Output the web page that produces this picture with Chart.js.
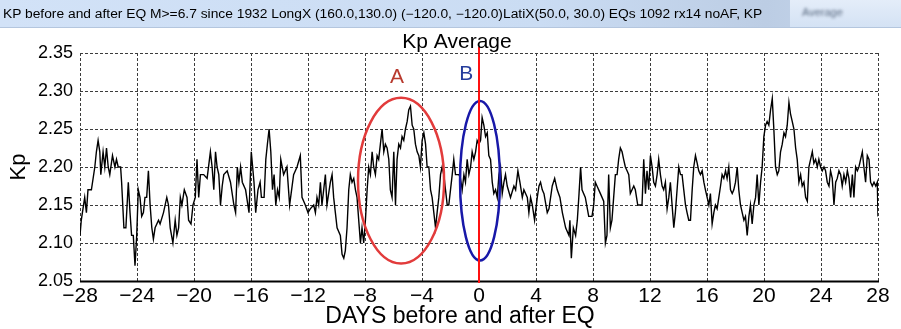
<!DOCTYPE html>
<html>
<head>
<meta charset="utf-8">
<script src="https://cdn.jsdelivr.net/npm/chart.js@4.4.0/dist/chart.umd.min.js"></script>
<style>
html, body { margin: 0; padding: 0; background: #fff; }
#wrap { position: relative; width: 901px; height: 329px; overflow: hidden; }
#bar {
	position: absolute; left: 0; top: 0; width: 901px; height: 27px;
	background: linear-gradient(to right, #d2e2f7 0%, #cadcf3 60%, #bccde4 85%, #c9d9ee 100%);
	border-bottom: 1px solid #b4c6de;
	font: 12px "Liberation Sans", Arial, sans-serif; color: #000;
}
#bar .txt {
	position: absolute; left: 3px; top: 7px; white-space: nowrap;
	transform: scaleX(1.15); transform-origin: left center;
}
#bar .rest {
	position: absolute; left: 790px; top: 0; width: 111px; height: 27px;
	background: linear-gradient(#e4edf9, #d4e2f4);
}
#bar .blur { position: absolute; left: 12px; top: 6px; color: #5a6a80; filter: blur(1.5px); font-size: 11px; }
#myChart { position: absolute; left: 0; top: 0; }
</style>
</head>
<body>
<div id="wrap">
	<canvas id="myChart" width="901" height="329"></canvas>
	<div id="bar">
		<span class="txt">KP before and after EQ M&gt;=6.7 since 1932 LongX (160.0,130.0) (−120.0, −120.0)LatiX(50.0, 30.0) EQs 1092 rx14 noAF, KP</span>
		<div class="rest"><span class="blur">Average</span></div>
	</div>
</div>
<script>
// days relative to the earthquake (x) and averaged Kp (y)
const days = [
	-28, -27.91, -27.67, -27.55, -27.44, -27.2, -26.96, -26.85, -26.73, -26.61,
	-26.54, -26.38, -26.26, -26.14, -26.02, -25.91, -25.72, -25.55, -25.44, -25.32,
	-25.15, -25.08, -24.92, -24.78, -24.61, -24.49, -24.38, -24.26, -24.14, -24.02,
	-23.91, -23.79, -23.67, -23.55, -23.44, -23.32, -23.2, -23.08, -22.96, -22.85,
	-22.73, -22.49, -22.38, -22.14, -21.91, -21.79, -21.67, -21.48, -21.32, -21.2,
	-21.08, -20.96, -20.85, -20.68, -20.49, -20.38, -20.21, -20.07, -19.91, -19.79,
	-19.67, -19.55, -19.32, -19.08, -18.85, -18.73, -18.61, -18.49, -18.38, -18.26,
	-18.14, -18.02, -17.91, -17.67, -17.44, -17.2, -17.08, -16.96, -16.85, -16.73,
	-16.61, -16.38, -16.14, -15.98, -15.79, -15.67, -15.51, -15.36, -15.27, -15.08,
	-14.96, -14.85, -14.73, -14.61, -14.49, -14.38, -14.26, -14.14, -14.02, -13.91,
	-13.71, -13.48, -13.29, -13.01, -12.77, -12.54, -12.42, -12.19, -12.0, -11.84,
	-11.6, -11.48, -11.37, -11.25, -11.13, -11.02, -10.9, -10.78, -10.67, -10.43,
	-10.31, -10.2, -10.08, -9.96, -9.73, -9.61, -9.49, -9.38, -9.26, -9.14,
	-9.03, -8.91, -8.79, -8.67, -8.56, -8.32, -8.21, -8.09, -7.97, -7.85,
	-7.74, -7.62, -7.5, -7.39, -7.27, -7.15, -7.04, -6.92, -6.8, -6.68,
	-6.57, -6.45, -6.33, -6.22, -6.1, -5.98, -5.86, -5.75, -5.63, -5.51,
	-5.4, -5.28, -5.16, -5.04, -4.93, -4.81, -4.69, -4.58, -4.46, -4.34,
	-4.22, -4.11, -3.99, -3.87, -3.75, -3.64, -3.52, -3.4, -3.29, -3.17,
	-3.05, -2.94, -2.82, -2.7, -2.59, -2.47, -2.35, -2.23, -2.12, -2.0,
	-1.88, -1.77, -1.65, -1.53, -1.41, -1.3, -1.18, -1.06, -0.95, -0.83,
	-0.71, -0.59, -0.48, -0.36, -0.24, -0.13, -0.01, 0.11, 0.22, 0.34,
	0.46, 0.58, 0.69, 0.81, 0.93, 1.04, 1.16, 1.28, 1.4, 1.51,
	1.63, 1.75, 1.86, 1.98, 2.21, 2.45, 2.57, 2.73, 2.87, 3.04,
	3.15, 3.39, 3.5, 3.62, 3.74, 3.9, 4.09, 4.21, 4.32, 4.44,
	4.56, 4.79, 4.91, 5.14, 5.31, 5.49, 5.68, 5.85, 6.08, 6.31,
	6.38, 6.48, 6.62, 6.78, 6.9, 7.02, 7.13, 7.23, 7.46, 7.7,
	7.93, 8.05, 8.16, 8.28, 8.52, 8.75, 8.87, 8.98, 9.1, 9.22,
	9.33, 9.45, 9.57, 9.69, 9.8, 9.92, 10.04, 10.15, 10.27, 10.39,
	10.51, 10.62, 10.74, 10.86, 10.97, 11.14, 11.33, 11.44, 11.56, 11.68,
	11.79, 11.91, 12.03, 12.15, 12.26, 12.38, 12.5, 12.61, 12.73, 12.85,
	12.96, 13.08, 13.2, 13.32, 13.43, 13.55, 13.67, 13.78, 13.9, 14.02,
	14.14, 14.25, 14.37, 14.49, 14.6, 14.72, 14.84, 14.96, 15.07, 15.19,
	15.31, 15.42, 15.54, 15.66, 15.78, 15.89, 16.01, 16.13, 16.24, 16.36,
	16.48, 16.59, 16.71, 16.83, 16.95, 17.06, 17.18, 17.3, 17.41, 17.53,
	17.65, 17.77, 17.88, 18.0, 18.12, 18.23, 18.35, 18.47, 18.59, 18.7,
	18.82, 18.94, 19.05, 19.17, 19.29, 19.41, 19.52, 19.64, 19.76, 19.87,
	19.99, 20.11, 20.22, 20.34, 20.46, 20.58, 20.69, 20.81, 20.93, 21.04,
	21.16, 21.28, 21.4, 21.51, 21.63, 21.75, 21.86, 21.98, 22.1, 22.22,
	22.33, 22.45, 22.57, 22.68, 22.8, 22.92, 23.04, 23.15, 23.27, 23.39,
	23.5, 23.62, 23.74, 23.85, 23.97, 24.09, 24.21, 24.32, 24.44, 24.56,
	24.67, 24.79, 24.91, 25.03, 25.14, 25.26, 25.38, 25.49, 25.61, 25.73,
	25.85, 25.96, 26.08, 26.2, 26.31, 26.43, 26.55, 26.66, 26.78, 26.9,
	27.01, 27.13, 27.25, 27.37, 27.48, 27.6, 27.72, 27.84, 27.95, 28
];
const kp = [
	2.11, 2.13, 2.16, 2.14, 2.17, 2.17, 2.20, 2.22, 2.235, 2.22,
	2.19, 2.22, 2.20, 2.225, 2.20, 2.19, 2.215, 2.20, 2.21, 2.20,
	2.20, 2.18, 2.12, 2.12, 2.18, 2.14, 2.11, 2.11, 2.07, 2.11,
	2.17, 2.16, 2.135, 2.14, 2.16, 2.16, 2.195, 2.15, 2.12, 2.105,
	2.12, 2.13, 2.125, 2.14, 2.16, 2.15, 2.12, 2.10, 2.13, 2.11,
	2.12, 2.16, 2.15, 2.17, 2.16, 2.13, 2.125, 2.15, 2.16, 2.21,
	2.16, 2.19, 2.19, 2.185, 2.22, 2.20, 2.17, 2.22, 2.20, 2.19,
	2.15, 2.175, 2.19, 2.195, 2.18, 2.15, 2.14, 2.20, 2.18, 2.20,
	2.18, 2.17, 2.14, 2.22, 2.18, 2.14, 2.17, 2.18, 2.16, 2.16,
	2.21, 2.23, 2.25, 2.22, 2.17, 2.19, 2.15, 2.17, 2.16, 2.21,
	2.19, 2.20, 2.15, 2.19, 2.20, 2.215, 2.16, 2.15, 2.14, 2.145,
	2.15, 2.14, 2.16, 2.15, 2.18, 2.15, 2.17, 2.19, 2.15, 2.18,
	2.19, 2.16, 2.14, 2.12, 2.11, 2.085, 2.08, 2.09, 2.12, 2.17,
	2.19, 2.18, 2.185, 2.17, 2.16, 2.10, 2.12, 2.10, 2.13, 2.17,
	2.20, 2.19, 2.22, 2.20, 2.19, 2.215, 2.21, 2.23, 2.25, 2.22,
	2.23, 2.225, 2.21, 2.17, 2.16, 2.22, 2.15, 2.21, 2.23, 2.225,
	2.24, 2.235, 2.25, 2.26, 2.275, 2.28, 2.255, 2.25, 2.23, 2.22,
	2.215, 2.20, 2.235, 2.245, 2.23, 2.20, 2.20, 2.17, 2.16, 2.14,
	2.12, 2.14, 2.16, 2.19, 2.20, 2.19, 2.17, 2.15, 2.15, 2.17,
	2.19, 2.21, 2.19, 2.19, 2.19, 2.185, 2.17, 2.19, 2.18, 2.21,
	2.19, 2.20, 2.22, 2.21, 2.22, 2.235, 2.23, 2.235, 2.265, 2.255,
	2.24, 2.245, 2.215, 2.21, 2.18, 2.165, 2.17, 2.16, 2.19, 2.20,
	2.165, 2.18, 2.19, 2.175, 2.16, 2.175, 2.17, 2.195, 2.18, 2.16,
	2.17, 2.16, 2.14, 2.16, 2.15, 2.13, 2.16, 2.175, 2.18, 2.17,
	2.165, 2.14, 2.145, 2.175, 2.185, 2.17, 2.16, 2.14, 2.12, 2.11,
	2.13, 2.08, 2.12, 2.11, 2.13, 2.165, 2.20, 2.17, 2.16, 2.135,
	2.135, 2.15, 2.18, 2.175, 2.165, 2.155, 2.10, 2.11, 2.19, 2.12,
	2.13, 2.16, 2.19, 2.19, 2.21, 2.225, 2.22, 2.21, 2.20, 2.195,
	2.19, 2.165, 2.17, 2.175, 2.17, 2.15, 2.15, 2.15, 2.21, 2.165,
	2.195, 2.17, 2.215, 2.20, 2.18, 2.175, 2.19, 2.21, 2.19, 2.175,
	2.17, 2.18, 2.145, 2.16, 2.18, 2.15, 2.12, 2.14, 2.17, 2.20,
	2.19, 2.19, 2.17, 2.15, 2.14, 2.13, 2.13, 2.17, 2.20, 2.215,
	2.205, 2.195, 2.19, 2.195, 2.18, 2.17, 2.16, 2.15, 2.165, 2.125,
	2.14, 2.15, 2.145, 2.16, 2.175, 2.19, 2.185, 2.195, 2.185, 2.20,
	2.17, 2.165, 2.17, 2.18, 2.20, 2.17, 2.15, 2.14, 2.13, 2.135,
	2.11, 2.135, 2.15, 2.125, 2.15, 2.16, 2.19, 2.15, 2.18, 2.20,
	2.24, 2.255, 2.26, 2.255, 2.275, 2.29, 2.25, 2.20, 2.19, 2.195,
	2.22, 2.23, 2.245, 2.24, 2.255, 2.285, 2.27, 2.26, 2.25, 2.225,
	2.21, 2.18, 2.19, 2.175, 2.18, 2.16, 2.155, 2.20, 2.21, 2.22,
	2.205, 2.21, 2.20, 2.21, 2.20, 2.195, 2.20, 2.195, 2.18, 2.175,
	2.195, 2.185, 2.15, 2.18, 2.185, 2.195, 2.19, 2.175, 2.19, 2.18,
	2.195, 2.185, 2.16, 2.19, 2.16, 2.20, 2.195, 2.20, 2.21, 2.22,
	2.20, 2.18, 2.215, 2.21, 2.18, 2.175, 2.18, 2.175, 2.18, 2.135
];

// axis ticks
const xTicks = { min: -28, max: 28, step: 4 };
const yTicks = { min: 2.05, max: 2.35, step: 0.05 };

// the two marked periods (centre day/kp and radii) with their letters
const marks = [
	{ label: "A", day: -5.47, kp: 2.182, rDay: 3.02, rKp: 0.109, color: "#e23b3b", text: "#b83a2e", tDay: -5.75, tKp: 2.318 },
	{ label: "B", day: 0.07, kp: 2.182, rDay: 1.4, rKp: 0.105, color: "#1818a8", text: "#253c9c", tDay: -0.9, tKp: 2.322 },
];

const font = '"Liberation Sans", Arial, sans-serif';
const minus = (v) => (v < 0 ? "\u2212" + Math.abs(v) : String(v));

// dotted grid drawn from the scales' own ticks
const dottedGrid = {
	id: "dottedGrid",
	afterDatasetsDraw(chart) {
		const { ctx, chartArea, scales } = chart;
		ctx.save();
		ctx.globalCompositeOperation = "destination-over";
		ctx.strokeStyle = "#3c3c3c";
		ctx.lineWidth = 1;
		ctx.setLineDash([3, 2]);
		const xs = scales.x.ticks.map((t) => t.value);
		const ys = scales.y.ticks.map((t) => t.value);
		xs.forEach((v) => {
			const px = Math.round(scales.x.getPixelForValue(v)) + 0.5;
			ctx.beginPath();
			ctx.moveTo(px, chartArea.top);
			ctx.lineTo(px, chartArea.bottom);
			ctx.stroke();
		});
		ys.forEach((v) => {
			const py = Math.round(scales.y.getPixelForValue(v)) + 0.5;
			ctx.beginPath();
			ctx.moveTo(chartArea.left, py);
			ctx.lineTo(chartArea.right, py);
			ctx.stroke();
		});
		ctx.restore();
	},
};

const annotate = {
	id: "annotate",
	afterDatasetsDraw(chart) {
		const { ctx, chartArea, scales } = chart;
		const x = scales.x, y = scales.y;
		ctx.save();
		// solid bottom axis
		ctx.beginPath();
		ctx.moveTo(chartArea.left, chartArea.bottom + 0.5);
		ctx.lineTo(chartArea.right + 1, chartArea.bottom + 0.5);
		ctx.strokeStyle = "#000";
		ctx.lineWidth = 2;
		ctx.stroke();
		marks.forEach((m) => {
			const cx = x.getPixelForValue(m.day);
			const cy = y.getPixelForValue(m.kp);
			const rx = x.getPixelForValue(m.day + m.rDay) - cx;
			const ry = cy - y.getPixelForValue(m.kp + m.rKp);
			ctx.beginPath();
			ctx.ellipse(cx, cy, rx, ry, 0, 0, Math.PI * 2);
			ctx.strokeStyle = m.color;
			ctx.lineWidth = 2.5;
			ctx.stroke();
			ctx.fillStyle = m.text;
			ctx.font = "21px " + font;
			ctx.textAlign = "center";
			ctx.textBaseline = "middle";
			ctx.fillText(m.label, x.getPixelForValue(m.tDay), y.getPixelForValue(m.tKp));
		});
		// EQ day
		const x0 = x.getPixelForValue(0);
		ctx.beginPath();
		ctx.moveTo(x0, chartArea.top - 6);
		ctx.lineTo(x0, chartArea.bottom + 2);
		ctx.strokeStyle = "#ff1010";
		ctx.lineWidth = 2;
		ctx.stroke();
		// titles
		ctx.fillStyle = "#000";
		ctx.textAlign = "center";
		ctx.textBaseline = "middle";
		ctx.font = "21px " + font;
		ctx.fillText("Kp Average", 457, 42);
		ctx.font = "23px " + font;
		ctx.fillText("DAYS before and after EQ", 460, 317);
		ctx.restore();
	},
};

const ctx = document.getElementById("myChart");
const myChart = new Chart(ctx, {
	type: "line",
	data: {
		datasets: [
			{
				label: "Kp",
				data: days.map((d, i) => ({ x: d, y: kp[i] })),
				borderColor: "#000",
				borderWidth: 1.4,
				pointRadius: 0,
				tension: 0,
			},
		],
	},
	options: {
		responsive: false,
		animation: false,
		layout: { padding: { top: 53, right: 23, left: 0, bottom: 0 } },
		plugins: { legend: { display: false }, tooltip: { enabled: false } },
		scales: {
			x: {
				type: "linear",
				min: xTicks.min,
				max: xTicks.max,
				afterFit: (s) => { s.height = 48; },
				ticks: {
					stepSize: xTicks.step,
					callback: (v) => minus(v),
					color: "#000",
					font: { family: font, size: 21 },
					padding: 3,
					maxRotation: 0,
				},
				grid: { display: false, drawTicks: false },
				border: { display: false },
			},
			y: {
				min: yTicks.min,
				max: yTicks.max,
				afterFit: (s) => { s.width = 80; },
				ticks: {
					stepSize: yTicks.step,
					callback: (v) => v.toFixed(2),
					color: "#000",
					font: { family: font, size: 18 },
					padding: 7,
				},
				grid: { display: false, drawTicks: false },
				border: { display: false },
				title: {
					display: true,
					text: "Kp",
					color: "#000",
					font: { family: font, size: 22 },
					padding: { top: 6, bottom: 0 },
				},
			},
		},
	},
	plugins: [annotate, dottedGrid],
});
</script>
</body>
</html>
